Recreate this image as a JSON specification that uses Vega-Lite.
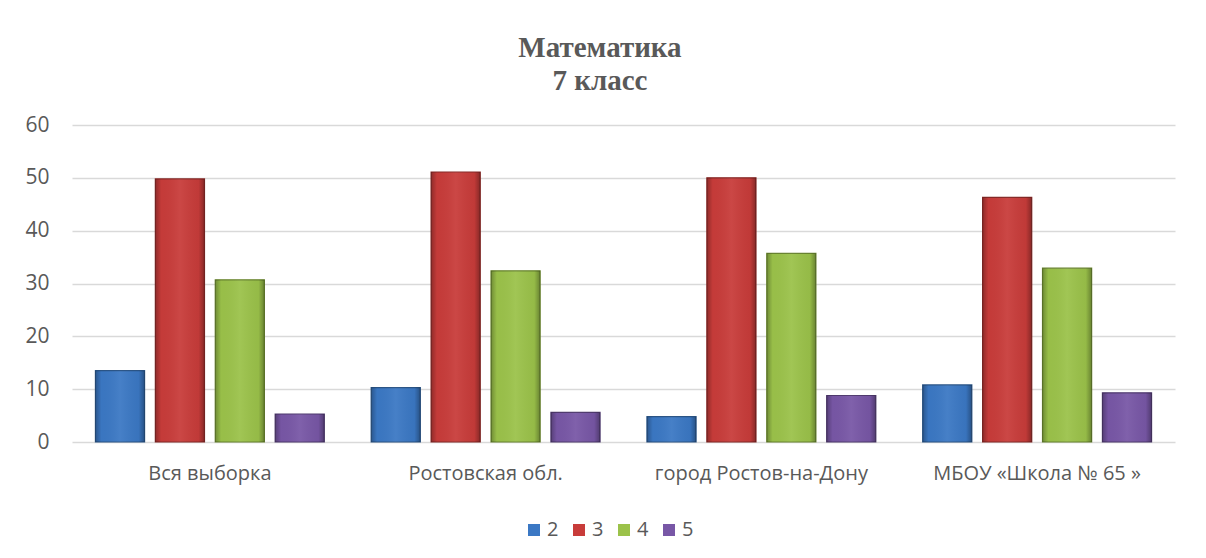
{
  "$schema": "https://vega.github.io/schema/vega-lite/v6.json",
  "width": 1103,
  "height": 317,
  "autosize": {"type": "none"},
  "padding": {"left": 72, "top": 125, "right": 31, "bottom": 116},
  "background": "white",
  "title": {
    "text": ["Математика", "7 класс"],
    "font": "Liberation Serif",
    "fontSize": 29,
    "fontWeight": "bold",
    "color": "#595959",
    "anchor": "middle",
    "frame": "bounds",
    "offset": 18,
    "lineHeight": 33
  },
  "config": {"view": {"stroke": null}},
  "data": {
    "values": [
      {"group": "Вся выборка", "grade": "2", "value": 13.5},
      {"group": "Вся выборка", "grade": "3", "value": 49.8},
      {"group": "Вся выборка", "grade": "4", "value": 30.7},
      {"group": "Вся выборка", "grade": "5", "value": 5.3},
      {"group": "Ростовская обл.", "grade": "2", "value": 10.3},
      {"group": "Ростовская обл.", "grade": "3", "value": 51.1},
      {"group": "Ростовская обл.", "grade": "4", "value": 32.4},
      {"group": "Ростовская обл.", "grade": "5", "value": 5.6},
      {"group": "город Ростов-на-Дону", "grade": "2", "value": 4.8},
      {"group": "город Ростов-на-Дону", "grade": "3", "value": 50.0},
      {"group": "город Ростов-на-Дону", "grade": "4", "value": 35.7},
      {"group": "город Ростов-на-Дону", "grade": "5", "value": 8.8},
      {"group": "МБОУ «Школа № 65 »", "grade": "2", "value": 10.8},
      {"group": "МБОУ «Школа № 65 »", "grade": "3", "value": 46.3},
      {"group": "МБОУ «Школа № 65 »", "grade": "4", "value": 32.9},
      {"group": "МБОУ «Школа № 65 »", "grade": "5", "value": 9.3}
    ]
  },
  "encoding": {
    "x": {
      "field": "group",
      "type": "nominal",
      "sort": null,
      "scale": {"paddingInner": 0.17, "paddingOuter": 0.085},
      "axis": {
        "title": null,
        "labelAngle": 0,
        "ticks": false,
        "domain": false,
        "labelPadding": 21,
        "labelLimit": 0,
        "labelFontSize": 20,
        "labelFont": "Open Sans",
        "labelColor": "#595959"
      }
    },
    "xOffset": {
      "field": "grade",
      "type": "nominal",
      "scale": {"paddingInner": 0.18, "paddingOuter": 0}
    },
    "y": {
      "field": "value",
      "type": "quantitative",
      "scale": {"domain": [0, 60], "nice": false},
      "axis": {
        "title": null,
        "values": [0, 10, 20, 30, 40, 50, 60],
        "domain": false,
        "ticks": false,
        "grid": true,
        "gridColor": "#d9d9d9",
        "gridWidth": 1.5,
        "labelPadding": 23,
        "labelFontSize": 21,
        "labelFont": "Open Sans",
        "labelColor": "#595959"
      }
    }
  },
  "layer": [
    {
      "mark": {"type": "bar", "strokeWidth": 1.2, "opacity": 1},
      "encoding": {
        "color": {
          "field": "grade",
          "type": "nominal",
          "scale": {"domain": ["2", "3", "4", "5"], "range": ["#3b78c4", "#c83c3a", "#9bc24a", "#7857a6"]},
          "legend": {
            "title": null,
            "orient": "none",
            "legendX": 452,
            "legendY": 395,
            "direction": "horizontal",
            "symbolType": "square",
            "symbolSize": 144,
            "symbolStrokeWidth": 0,
            "symbolOpacity": 1,
            "labelFontSize": 20,
            "labelFont": "Open Sans",
            "labelColor": "#595959",
            "labelOffset": 3,
            "columnPadding": 10
          }
        },
        "stroke": {
          "field": "grade",
          "type": "nominal",
          "scale": {"domain": ["2", "3", "4", "5"], "range": ["#2a5486", "#862826", "#68832f", "#4f3a6e"]},
          "legend": null
        }
      }
    },
    {
      "mark": {
        "type": "bar",
        "strokeWidth": 0,
        "fill": {
          "gradient": "linear",
          "x1": 0, "y1": 0, "x2": 1, "y2": 0,
          "stops": [
            {"offset": 0, "color": "rgba(0,0,0,0.28)"},
            {"offset": 0.12, "color": "rgba(0,0,0,0.02)"},
            {"offset": 0.5, "color": "rgba(255,255,255,0.06)"},
            {"offset": 0.88, "color": "rgba(0,0,0,0.04)"},
            {"offset": 1, "color": "rgba(0,0,0,0.32)"}
          ]
        }
      },
      "encoding": {}
    }
  ]
}
